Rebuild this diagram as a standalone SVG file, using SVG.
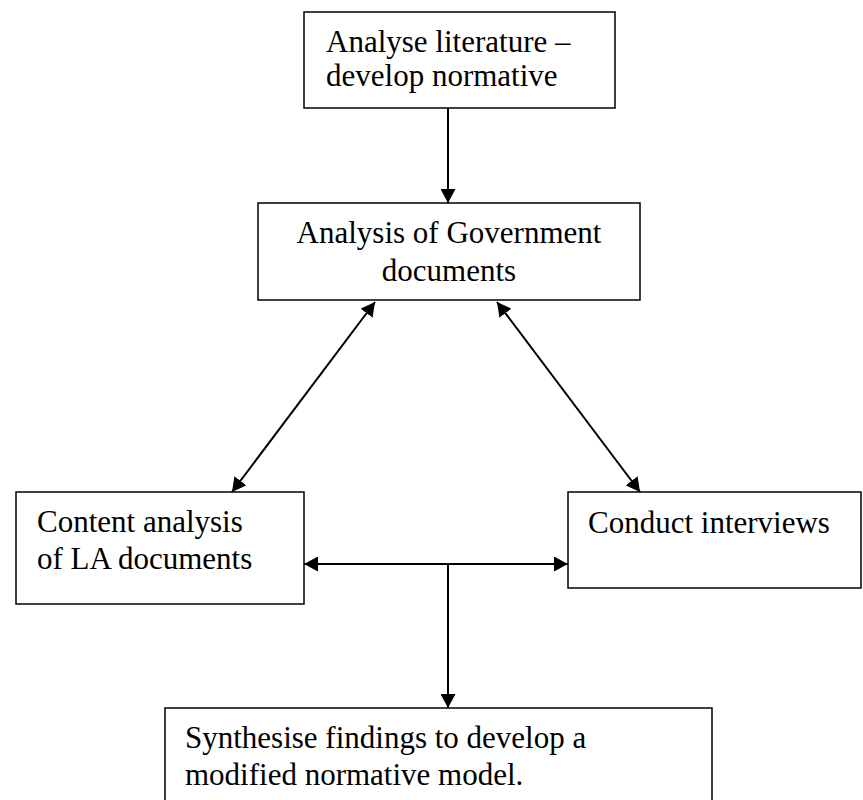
<svg xmlns="http://www.w3.org/2000/svg" width="863" height="800" viewBox="0 0 863 800">
  <style>
    .box { fill: #ffffff; stroke: #000000; stroke-width: 1.5; }
    .lbl { font-family: "Liberation Serif", "Times New Roman", serif; font-size: 31px; fill: #000000; }
    .conn { stroke: #000000; stroke-width: 2; fill: none; }
  </style>
  <defs>
    <marker id="arrowEnd" viewBox="0 0 14 15" refX="14" refY="7.5" markerWidth="14" markerHeight="15" markerUnits="userSpaceOnUse" orient="auto">
      <path d="M0,0 L14,7.5 L0,15 Z" fill="#000000"/>
    </marker>
    <marker id="arrowStart" viewBox="0 0 14 15" refX="0" refY="7.5" markerWidth="14" markerHeight="15" markerUnits="userSpaceOnUse" orient="auto">
      <path d="M14,0 L0,7.5 L14,15 Z" fill="#000000"/>
    </marker>
  </defs>

  <!-- connectors -->
  <g id="connectors">
    <line class="conn" x1="448" y1="108" x2="448" y2="203" marker-end="url(#arrowEnd)"/>
    <line class="conn" x1="375" y1="302" x2="232" y2="492" marker-start="url(#arrowStart)" marker-end="url(#arrowEnd)"/>
    <line class="conn" x1="497" y1="302" x2="640" y2="492" marker-start="url(#arrowStart)" marker-end="url(#arrowEnd)"/>
    <line class="conn" x1="304" y1="564" x2="568" y2="564" marker-start="url(#arrowStart)" marker-end="url(#arrowEnd)"/>
    <line class="conn" x1="448" y1="564" x2="448" y2="708" marker-end="url(#arrowEnd)"/>
  </g>

  <!-- literature analysis -->
  <g id="node-literature">
    <rect class="box" x="304" y="12" width="311" height="96"/>
    <text class="lbl" x="326" y="52">Analyse literature –</text>
    <text class="lbl" x="326" y="86">develop normative</text>
  </g>

  <!-- government documents -->
  <g id="node-government">
    <rect class="box" x="258" y="203" width="382" height="97"/>
    <text class="lbl" x="449" y="243" text-anchor="middle">Analysis of Government</text>
    <text class="lbl" x="449" y="281" text-anchor="middle">documents</text>
  </g>

  <!-- LA documents -->
  <g id="node-la">
    <rect class="box" x="16" y="492" width="288" height="112"/>
    <text class="lbl" x="37" y="532">Content analysis</text>
    <text class="lbl" x="37" y="569">of LA documents</text>
  </g>

  <!-- interviews -->
  <g id="node-interviews">
    <rect class="box" x="568" y="492" width="293" height="96"/>
    <text class="lbl" x="588" y="533">Conduct interviews</text>
  </g>

  <!-- synthesis -->
  <g id="node-synthesis">
    <rect class="box" x="165" y="708" width="547" height="100"/>
    <text class="lbl" x="185" y="748">Synthesise findings to develop a</text>
    <text class="lbl" x="185" y="785">modified normative model.</text>
  </g>
</svg>
